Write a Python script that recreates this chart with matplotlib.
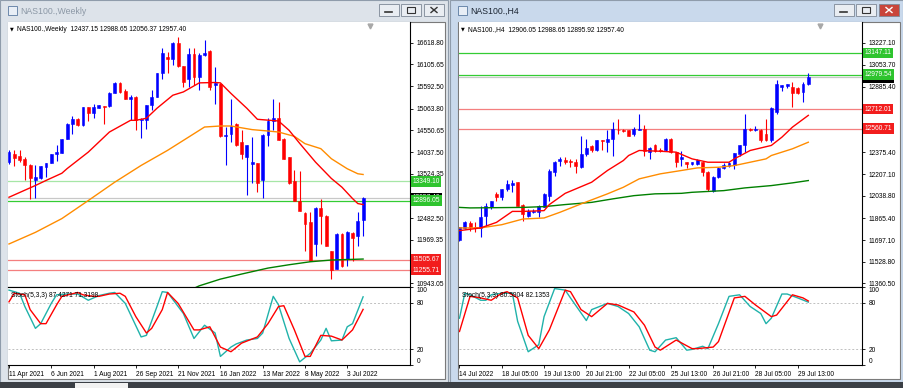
import numpy as np
import matplotlib.pyplot as plt
from matplotlib.patches import Rectangle
import matplotlib.transforms as mtrans

plt.rcParams['font.family'] = ['Liberation Sans', 'DejaVu Sans']

# ---------------- weekly chart (left window) ----------------
w_open = [13803, 13984, 13937, 13882, 13724, 13370, 13417, 13684, 13779, 13999,
          14015, 14354, 14693, 14827, 14669, 15102, 14961, 15087, 15125, 15118,
          15441, 15670, 15480, 15299, 15339, 14787, 14787, 15142, 15339, 15890,
          16284, 16221, 16599, 16063, 15772, 16347, 15811, 16330, 16418, 15614,
          15654, 14409, 14472, 14709, 14275, 13921, 13763, 13771, 13386, 14433,
          14772, 14850, 14354, 13913, 13346, 12897, 12613, 12401, 11881, 12732,
          12543, 11716, 11290, 12117, 11526, 12141, 12070, 12437.15]
w_high = [14078, 14078, 14078, 13921, 13763, 13724, 13720, 13790, 13990, 14212,
          14345, 14720, 14882, 14840, 15110, 15110, 15181, 15150, 15125, 15460,
          15690, 15690, 15520, 15394, 15350, 14840, 15150, 15496, 15900, 16481,
          16402, 16638, 16757, 16070, 16481, 16481, 16363, 16678, 16450, 16048,
          15670, 14630, 15284, 14720, 14551, 14200, 14394, 13790, 14460, 14850,
          15284, 15220, 14360, 13920, 13606, 13590, 12620, 12637, 12740, 12944,
          12550, 11720, 12130, 12130, 12188, 12150, 12637, 12988.65]
w_low = [13763, 13700, 13803, 13385, 12944, 12968, 13400, 13448, 13770, 13818,
         14010, 14350, 14472, 14660, 14660, 14772, 14850, 15080, 14693, 15110,
         15430, 15440, 15290, 14803, 14551, 14378, 14590, 15024, 15330, 15772,
         15906, 16087, 16048, 15575, 15575, 15614, 15512, 16300, 15512, 15165,
         14400, 13724, 14275, 14173, 13882, 13039, 13299, 13093, 12952, 14173,
         14551, 14315, 13870, 13290, 12890, 12650, 11716, 11470, 11597, 11881,
         11820, 11054, 11280, 11320, 11361, 11479, 11834, 12056.37]
w_close = [14039, 13897, 13858, 13724, 13417, 13440, 13700, 13779, 13984, 14039,
           14338, 14709, 14827, 14669, 15102, 14961, 15102, 15142, 15110, 15441,
           15670, 15457, 15299, 15339, 14787, 14827, 15142, 15339, 15890, 16363,
           16221, 16599, 16063, 15693, 16347, 15811, 16323, 16363, 15575, 15670,
           14409, 14449, 14646, 14197, 13999, 14197, 13803, 13306, 14449, 14764,
           14850, 14330, 13882, 13299, 12897, 12661, 12353, 11479, 12732, 12543,
           11834, 11267, 12117, 11361, 12164, 12023, 12424, 12957.40]

w_ma_red_x = [0, 5, 7, 10, 11, 15, 19, 23, 24, 26, 28, 31, 33, 36, 39, 40, 42, 45,
              47, 51, 53, 55, 58, 61, 63, 65, 66, 67]
w_ma_red = [12975, 13252, 13370, 13540, 13650, 14038, 14511, 14787, 14787, 14835,
            15071, 15378, 15456, 15669, 15678, 15669, 15420, 15071, 14811, 14771,
            14551, 14244, 13802, 13417, 13211, 12944, 12826, 12802]
w_ma_orange_x = [0, 5, 10, 15, 20, 25, 30, 34, 37, 40, 42, 46, 49, 51, 54, 56, 59,
                 61, 64, 66, 67]
w_ma_orange = [11874, 12148, 12472, 12897, 13329, 13724, 14079, 14393, 14629, 14653,
               14653, 14568, 14535, 14511, 14409, 14237, 14119, 13882, 13646, 13528,
               13511]
w_ma_green_x = [35, 36, 40, 44, 49, 53, 57, 61, 67]
w_ma_green = [10830, 10888, 11046, 11165, 11306, 11385, 11455, 11496, 11519]

w_k_x = [0, 2, 3, 5, 6, 8, 9, 11, 13, 15, 17, 19, 20, 22, 25, 26, 28, 29, 30, 33,
         35, 37, 39, 40, 42, 43, 45, 47, 48, 50, 51, 53, 55, 57, 59, 60, 61, 63,
         64, 65, 67]
w_k = [96, 92, 75, 47, 53, 79, 90, 91, 91, 83, 89, 92, 93, 79, 36, 38, 75, 94, 93,
       66, 34, 51, 41, 11, 23, 27, 32, 34, 41, 88, 77, 34, 4, 15, 32, 47, 31, 32,
       49, 53, 87.4]
w_d_x = [0, 1, 3, 4, 6, 7, 9, 10, 13, 14, 16, 17, 19, 21, 22, 24, 26, 27, 29, 30,
         32, 35, 36, 38, 40, 42, 44, 47, 49, 51, 52, 54, 56, 57, 59, 61, 63, 65, 67]
w_d = [81, 92, 90, 71, 53, 53, 77, 88, 93, 90, 88, 88, 91, 92, 88, 62, 41, 47, 71,
       93, 79, 45, 45, 49, 23, 17, 28, 36, 53, 75, 76, 45, 11, 11, 38, 37, 32, 45,
       71.3]

# price scale; the two empty labels sit under the price tags in the reference
w_ticks = [16618.80, 16105.65, 15592.50, 15063.80, 14550.65, 14037.50, 13524.35,
           13011.20, 12482.50, 11969.35, 11456.20, 10943.05]
w_tick_labels = ['16618.80', '16105.65', '15592.50', '15063.80', '14550.65',
                 '14037.50', '13524.35', '', '12482.50', '11969.35', '', '10943.05']
w_date_bars = [0, 8, 16, 24, 32, 40, 48, 56, 64]
w_dates = ['11 Apr 2021', '6 Jun 2021', '1 Aug 2021', '26 Sep 2021', '21 Nov 2021',
           '16 Jan 2022', '13 Mar 2022', '8 May 2022', '3 Jul 2022']
w_levels = [13349.10, 12896.05, 11505.67, 11255.71]
w_level_kind = ['g2', 'g', 'r', 'r']

# ---------------- H4 chart (right window) ----------------
h_open = [11697, 11790, 11827, 11801, 11790, 11886, 11956, 12054, 12028, 12093,
          12127, 12145, 11972, 11886, 11912, 11912, 11956, 12041, 12223, 12313,
          12318, 12308, 12300, 12262, 12360, 12422, 12396, 12469, 12456, 12481,
          12551, 12551, 12546, 12515, 12551, 12559, 12378, 12437, 12391, 12391,
          12481, 12378, 12326, 12300, 12287, 12287, 12300, 12222, 12080, 12183,
          12259, 12274, 12282, 12365, 12430, 12559, 12546, 12551, 12515, 12469,
          12689, 12883, 12888, 12883, 12877, 12844, 12906.05]
h_high = [11800, 11842, 11842, 11834, 11964, 11982, 12003, 12067, 12095, 12163,
          12163, 12150, 11975, 11938, 11935, 11970, 12060, 12248, 12313, 12339,
          12339, 12326, 12326, 12500, 12481, 12430, 12475, 12474, 12551, 12611,
          12637, 12555, 12551, 12572, 12676, 12590, 12415, 12440, 12412, 12485,
          12485, 12380, 12386, 12305, 12305, 12325, 12305, 12230, 12190, 12265,
          12292, 12300, 12375, 12435, 12676, 12565, 12577, 12555, 12637, 12730,
          12940, 12900, 12909, 12921, 12885, 12921, 12988.65]
h_low = [11690, 11785, 11770, 11757, 11718, 11809, 11938, 12003, 12008, 12080,
         12067, 11960, 11842, 11878, 11905, 11873, 11950, 12003, 12197, 12274,
         12287, 12262, 12215, 12256, 12352, 12378, 12390, 12391, 12378, 12352,
         12520, 12535, 12500, 12500, 12546, 12352, 12326, 12380, 12378, 12385,
         12370, 12262, 12274, 12256, 12280, 12280, 12197, 12080, 12067, 12178,
         12249, 12261, 12249, 12352, 12378, 12540, 12541, 12456, 12465, 12460,
         12676, 12852, 12877, 12727, 12830, 12766, 12895.92]
h_close = [11796, 11834, 11801, 11790, 11873, 11964, 11997, 12028, 12093, 12132,
           12137, 11964, 11899, 11925, 11925, 11964, 12054, 12235, 12300, 12326,
           12300, 12300, 12274, 12360, 12412, 12396, 12469, 12461, 12481, 12559,
           12546, 12541, 12507, 12557, 12559, 12386, 12412, 12386, 12386, 12481,
           12378, 12300, 12344, 12287, 12300, 12318, 12222, 12093, 12183, 12259,
           12282, 12292, 12370, 12430, 12559, 12546, 12559, 12469, 12469, 12722,
           12908, 12896, 12903, 12836, 12836, 12908, 12957.40]

h_ma_red_x = [0, 4, 7, 10, 12, 16, 17, 20, 25, 28, 31, 32, 34, 38, 41, 44, 47, 51,
              52, 55, 59, 61, 63, 66]
h_ma_red = [11770, 11791, 11834, 11919, 11919, 11925, 11972, 12059, 12145, 12236,
            12313, 12352, 12391, 12385, 12378, 12326, 12300, 12300, 12326, 12391,
            12430, 12494, 12572, 12663]
h_ma_orange_x = [0, 4, 8, 12, 16, 19, 23, 28, 31, 34, 38, 42, 45, 49, 52, 55, 58,
                 59, 63, 66]
h_ma_orange = [11791, 11791, 11816, 11860, 11868, 11912, 11977, 12055, 12106, 12171,
               12210, 12236, 12256, 12261, 12274, 12300, 12326, 12352, 12404, 12455]
h_ma_green_x = [0, 2, 12, 16, 20, 25, 29, 33, 37, 42, 44, 50, 54, 59, 63, 66]
h_ma_green = [11950, 11946, 11950, 11956, 11972, 11989, 12016, 12041, 12055, 12059,
              12067, 12080, 12101, 12119, 12140, 12158]

h_k_x = [0, 1, 2, 4, 5, 6, 8, 10, 11, 13, 15, 16, 18, 20, 21, 24, 25, 28, 30, 32,
         34, 36, 37, 39, 41, 43, 44, 46, 47, 49, 51, 53, 55, 57, 58, 59, 61, 62,
         64, 66]
h_k = [60, 92, 90, 83, 83, 90, 92, 92, 56, 17, 26, 62, 98, 96, 86, 57, 71, 79, 75,
       66, 49, 19, 17, 32, 35, 19, 20, 24, 21, 53, 88, 90, 75, 66, 53, 60, 91, 91,
       86, 80.6]
h_d_x = [0, 2, 4, 6, 8, 9, 11, 13, 15, 17, 20, 21, 23, 25, 28, 30, 33, 35, 37, 38,
         41, 44, 45, 48, 49, 52, 54, 56, 59, 60, 63, 65, 66]
h_d = [43, 88, 86, 83, 92, 94, 86, 38, 21, 45, 96, 94, 71, 62, 79, 77, 68, 51, 23,
       19, 32, 21, 21, 23, 30, 86, 88, 77, 62, 64, 90, 86, 82.1]

h_ticks = [13227.10, 13053.70, 12885.40, 12717.10, 12545.40, 12375.40, 12207.10,
           12038.80, 11865.40, 11697.10, 11528.80, 11360.50]
h_tick_labels = ['13227.10', '13053.70', '12885.40', '', '', '12375.40', '12207.10',
                 '12038.80', '11865.40', '11697.10', '11528.80', '11360.50']
h_date_bars = [0, 8, 16, 24, 32, 40, 48, 56, 64]
h_dates = ['14 Jul 2022', '18 Jul 05:00', '19 Jul 13:00', '20 Jul 21:00',
           '22 Jul 05:00', '25 Jul 13:00', '26 Jul 21:00', '28 Jul 05:00',
           '29 Jul 13:00']
h_levels = [13147.11, 12979.54, 12712.01, 12560.71]
h_level_kind = ['g', 'g', 'r', 'r']

bid = 12957.40

W, H = 904, 388
fig = plt.figure(figsize=(W / 100, H / 100), dpi=100)
fig.patch.set_facecolor('#d4dbe3')

bg = fig.add_axes([0, 0, 1, 1])
bg.set_xlim(0, W)
bg.set_ylim(H, 0)
bg.axis('off')


def px_axes(x0, y0, x1, y1):
    return fig.add_axes([x0 / W, 1 - y1 / H, (x1 - x0) / W, (y1 - y0) / H])


def window(x0, x1, title, active):
    frame = '#c9d9ec' if active else '#dde3ea'
    bg.add_patch(Rectangle((x0, 0), x1 - x0, 382, fc=frame, ec='#8f9cab', lw=0.8))
    bg.add_patch(Rectangle((x0 + 8, 22), x1 - x0 - 11, 357, fc='white', ec='#7a7a7a', lw=0.8))
    # little icon + title
    bg.add_patch(Rectangle((x0 + 8, 6), 9, 9, fc='#e8eef6', ec='#5a7aa0', lw=0.6))
    bg.text(x0 + 20, 11, title, fontsize=6.3, va='center',
            color='#1c2633' if active else '#8c98a6')
    bx = x1 - 69
    for k in range(3):
        fc = '#c9453b' if (active and k == 2) else '#e9edf2'
        bg.add_patch(Rectangle((bx + k * 22.5, 4), 20, 12, fc=fc, ec='#7d8896', lw=0.6))
    bg.plot([bx + 6, bx + 13], [12, 12], color='#333333', lw=1.2)
    bg.add_patch(Rectangle((bx + 22.5 + 6, 7), 8, 6, fc='none', ec='#333333', lw=0.8))
    xc = bx + 45 + 10
    ccol = 'white' if active else '#333333'
    bg.plot([xc - 3, xc + 3], [7.5, 12.5], color=ccol, lw=1.0)
    bg.plot([xc - 3, xc + 3], [12.5, 7.5], color=ccol, lw=1.0)


window(0, 448, 'NAS100.,Weekly', False)
window(450, 903, 'NAS100.,H4', True)
bg.add_patch(Rectangle((0, 382), W, 6, fc='#3b3f45', ec='none'))
bg.add_patch(Rectangle((75, 383), 53, 5, fc='#f2f2f2', ec='none'))


def candles(ax, o, h, l, c):
    o, h, l, c = map(np.asarray, (o, h, l, c))
    x = np.arange(len(o))
    col = np.where(c >= o, '#0000ff', '#ff0000')
    ax.vlines(x, l, h, colors=col, lw=0.8, zorder=4)
    ax.bar(x, np.abs(c - o), bottom=np.minimum(o, c), width=0.55, color=col,
           edgecolor=col, lw=0.4, zorder=5)


def panel(px0, px1, x_first, o, h, l, c, mas, ticks, tick_labels, levels, kinds, info,
          k_x, k, d_x, d, stoch_info, date_bars, dates, shift_px):
    spacing = 5.285
    xlim = ((px0 - x_first) / spacing, (px1 - x_first) / spacing)
    ax = px_axes(px0, 22, px1, 287)
    ax.set_xlim(*xlim)
    ylo = ticks[0] + (ticks[0] - ticks[-1]) / 240.3 * 20.5
    yhi = ticks[-1] - (ticks[0] - ticks[-1]) / 240.3 * 3.5
    ax.set_ylim(yhi, ylo)
    candles(ax, o, h, l, c)
    for (mx, my, col) in mas:
        ax.plot(mx, my, color=col, lw=1.0, zorder=6)
    lc = {'g': '#34cc34', 'g2': '#a6e6a6', 'r': '#f47f7f'}
    for lv, kd in zip(levels, kinds):
        ax.axhline(lv, color=lc[kd], lw=0.9, zorder=2)
    ax.axhline(bid, color='#c8c8c8', lw=0.9, zorder=1)
    ax.set_xticks([])
    ax.yaxis.tick_right()
    ax.set_yticks(ticks)
    ax.set_yticklabels(tick_labels)
    ax.tick_params(axis='y', length=2.5, width=0.6, pad=2.2, labelsize=4.8)
    for s in ax.spines.values():
        s.set_linewidth(0.8)
    ax.spines['left'].set_visible(False)
    ax.spines['top'].set_visible(False)
    tr = mtrans.blended_transform_factory(ax.transAxes, ax.transData)
    ax.text(1.006, bid, '%.2f' % bid, transform=tr, fontsize=4.8, color='white',
            va='center', ha='left', zorder=20, clip_on=False,
            bbox=dict(boxstyle='square,pad=0.25', fc='black', ec='none'))
    bc = {'g': '#2ec42e', 'g2': '#2ec42e', 'r': '#f21d1d'}
    for lv, kd in zip(levels, kinds):
        ax.text(1.006, lv, '%.2f' % lv, transform=tr, fontsize=4.8, color='white',
                va='center', ha='left', zorder=21, clip_on=False,
                bbox=dict(boxstyle='square,pad=0.25', fc=bc[kd], ec='none'))
    ax.text(0.004, 0.985, '\u25bc', transform=ax.transAxes, fontsize=3.5,
            family='DejaVu Sans', va='top', ha='left')
    ax.text(0.022, 0.985, info, transform=ax.transAxes, fontsize=4.8, va='top', ha='left')
    ax.plot([(shift_px - px0) / (px1 - px0)], [0.985], marker='v', ms=3.5,
            color='#a8a8a8', transform=ax.transAxes, clip_on=False)

    sx = px_axes(px0, 287, px1, 365)
    sx.set_xlim(*xlim)
    sx.set_ylim(0, 100)
    sx.axhline(80, color='#c0c0c0', lw=0.7, ls=(0, (2, 2)))
    sx.axhline(20, color='#c0c0c0', lw=0.7, ls=(0, (2, 2)))
    sx.plot(k_x, k, color='#20b2aa', lw=1.0)
    sx.plot(d_x, d, color='#ff0000', lw=1.0)
    sx.yaxis.tick_right()
    sx.set_yticks([0, 20, 80, 100])
    sx.set_yticklabels(['0', '20', '80', '100'])
    sx.tick_params(axis='y', length=2.5, width=0.6, pad=2.2, labelsize=4.8)
    labs = sx.get_yticklabels()
    labs[0].set_va('bottom')
    labs[-1].set_va('top')
    sx.set_xticks(date_bars)
    sx.set_xticklabels(dates, ha='left')
    sx.tick_params(axis='x', length=2.5, width=0.6, pad=1.5, labelsize=4.8)
    for s in sx.spines.values():
        s.set_linewidth(0.8)
    sx.spines['left'].set_visible(False)
    sx.text(0.008, 0.93, stoch_info, transform=sx.transAxes, fontsize=4.8,
            va='top', ha='left', zorder=10)


panel(8, 410, 9.0, w_open, w_high, w_low, w_close,
      [(w_ma_green_x, w_ma_green, '#008000'), (w_ma_orange_x, w_ma_orange, '#ff8c00'),
       (w_ma_red_x, w_ma_red, '#ff0000')],
      w_ticks, w_tick_labels, w_levels, w_level_kind,
      'NAS100.,Weekly  12437.15 12988.65 12056.37 12957.40',
      w_k_x, w_k, w_d_x, w_d, 'Stoch(5,3,3) 87.4271 71.3198',
      w_date_bars, w_dates, 370)

panel(459, 862, 459.5, h_open, h_high, h_low, h_close,
      [(h_ma_green_x, h_ma_green, '#008000'), (h_ma_orange_x, h_ma_orange, '#ff8c00'),
       (h_ma_red_x, h_ma_red, '#ff0000')],
      h_ticks, h_tick_labels, h_levels, h_level_kind,
      'NAS100.,H4  12906.05 12988.65 12895.92 12957.40',
      h_k_x, h_k, h_d_x, h_d, 'Stoch(5,3,3) 80.5904 82.1353',
      h_date_bars, h_dates, 820)

fig.savefig('out.png', dpi=100, facecolor=fig.get_facecolor())
